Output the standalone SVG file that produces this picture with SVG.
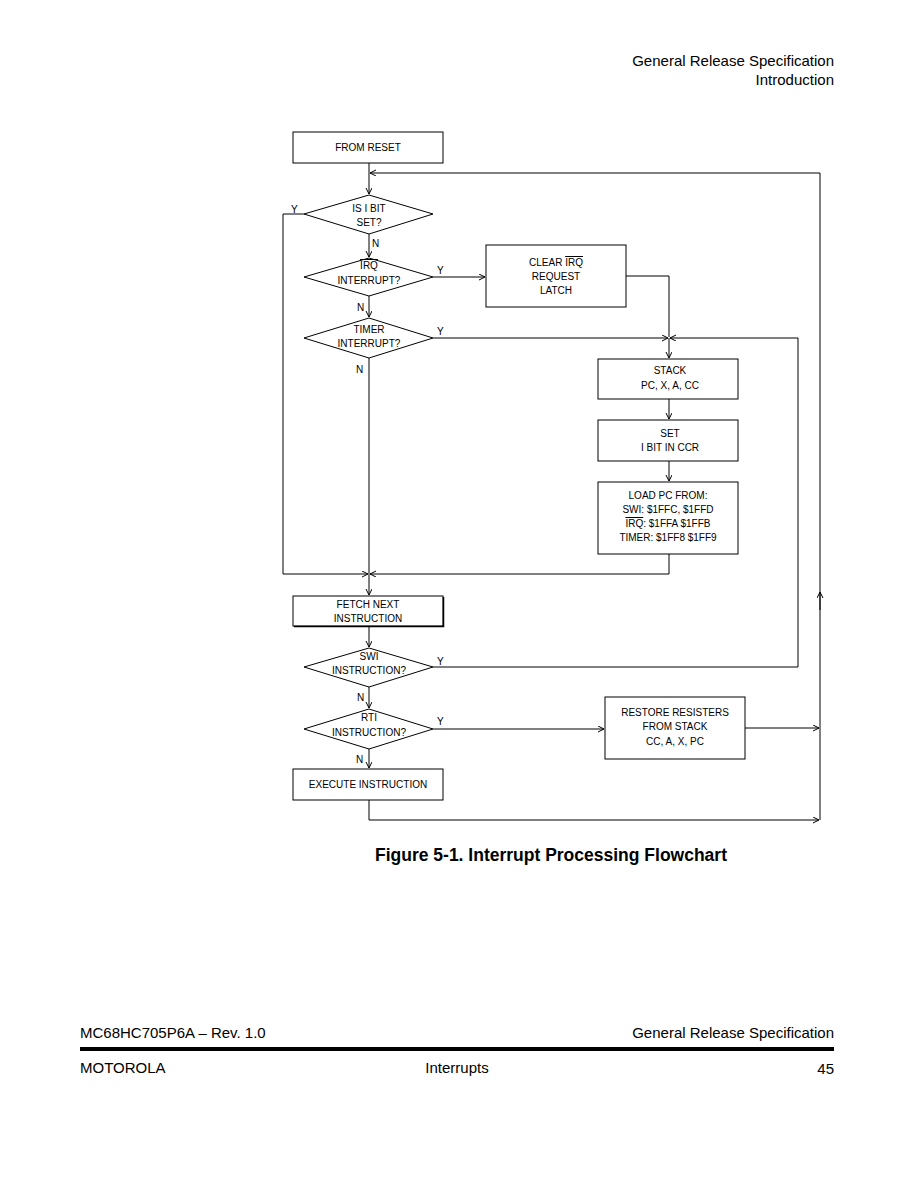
<svg xmlns="http://www.w3.org/2000/svg" width="921" height="1188" viewBox="0 0 921 1188">
<style>
.bg{fill:#fff}
.box{fill:#fff;stroke:#000;stroke-width:1}
.t{font-family:"Liberation Sans",Arial,sans-serif;font-size:10px;fill:#000;text-anchor:middle}
.lbl{font-family:"Liberation Sans",Arial,sans-serif;font-size:10px;fill:#000}
.c{fill:none;stroke:#000;stroke-width:1}
.hdr{font-family:"Liberation Sans",Arial,sans-serif;font-size:15px;fill:#000}
.ov{text-decoration:overline}
</style>
<defs>
<marker id="a" markerWidth="7" markerHeight="7" refX="6" refY="3" orient="auto" markerUnits="userSpaceOnUse">
<path d="M0,0 L6,3 L0,6" fill="none" stroke="#000" stroke-width="1"/>
</marker>
</defs>
<rect class="bg" x="0" y="0" width="921" height="1188"/>

<text class="hdr" x="834" y="66" text-anchor="end">General Release Specification</text>
<text class="hdr" x="834" y="85" text-anchor="end">Introduction</text>

<g id="connectors">
<path class="c" d="M369,163 V194" marker-end="url(#a)"/>
<path class="c" d="M820,173 H370" marker-end="url(#a)"/>
<path class="c" d="M304,214 H283 V574 H368" marker-end="url(#a)"/>
<path class="c" d="M369,234 V257" marker-end="url(#a)"/>
<path class="c" d="M433,277 H485" marker-end="url(#a)"/>
<path class="c" d="M626,276 H669 V337" />
<path class="c" d="M369,296 V317" marker-end="url(#a)"/>
<path class="c" d="M433,338 H668" marker-end="url(#a)"/>
<path class="c" d="M669,338 V358" marker-end="url(#a)"/>
<path class="c" d="M369,358 V595" marker-end="url(#a)"/>
<path class="c" d="M669,399 V419" marker-end="url(#a)"/>
<path class="c" d="M669,461 V481" marker-end="url(#a)"/>
<path class="c" d="M669,554 V574 H370" marker-end="url(#a)"/>
<path class="c" d="M369,626 V647" marker-end="url(#a)"/>
<path class="c" d="M433,667 H798 V338 H670" marker-end="url(#a)"/>
<path class="c" d="M369,687 V708" marker-end="url(#a)"/>
<path class="c" d="M433,729 H604" marker-end="url(#a)"/>
<path class="c" d="M745,728 H819" marker-end="url(#a)"/>
<path class="c" d="M369,749 V768" marker-end="url(#a)"/>
<path class="c" d="M369,800 V820 H819" marker-end="url(#a)"/>
<path class="c" d="M820,820 V173"/>
<path class="c" d="M820,610 V592" marker-end="url(#a)"/>
</g>

<g id="labels">
<text class="lbl" x="291" y="213">Y</text>
<text class="lbl" x="372" y="247">N</text>
<text class="lbl" x="437" y="274">Y</text>
<text class="lbl" x="357" y="311">N</text>
<text class="lbl" x="437" y="335">Y</text>
<text class="lbl" x="356" y="373">N</text>
<text class="lbl" x="437" y="665">Y</text>
<text class="lbl" x="357" y="701">N</text>
<text class="lbl" x="437" y="725">Y</text>
<text class="lbl" x="356" y="763">N</text>
</g>

<g id="from-reset">
<rect class="box" x="293" y="132" width="150" height="31"/>
<text class="t" x="368" y="151">FROM RESET</text>
</g>

<g id="ibit">
<polygon class="box" points="369,195 433,214 369,234 304,214"/>
<text class="t" x="369" y="212">IS I BIT</text>
<text class="t" x="369" y="226">SET?</text>
</g>

<g id="irq">
<polygon class="box" points="369,258 433,277 369,296 304,277"/>
<text class="t" x="369" y="269"><tspan class="ov">IRQ</tspan></text>
<text class="t" x="369" y="284">INTERRUPT?</text>
</g>

<g id="clear-irq">
<rect class="box" x="486" y="245" width="140" height="62"/>
<text class="t" x="556" y="266">CLEAR <tspan class="ov">IRQ</tspan></text>
<text class="t" x="556" y="280">REQUEST</text>
<text class="t" x="556" y="294">LATCH</text>
</g>

<g id="timer">
<polygon class="box" points="369,318 433,338 369,358 304,338"/>
<text class="t" x="369" y="333">TIMER</text>
<text class="t" x="369" y="347">INTERRUPT?</text>
</g>

<g id="stack">
<rect class="box" x="598" y="359" width="140" height="40"/>
<text class="t" x="670" y="374">STACK</text>
<text class="t" x="670" y="389">PC, X, A, CC</text>
</g>

<g id="set-ibit">
<rect class="box" x="598" y="420" width="140" height="41"/>
<text class="t" x="670" y="437">SET</text>
<text class="t" x="670" y="451">I BIT IN CCR</text>
</g>

<g id="load-pc">
<rect class="box" x="598" y="482" width="140" height="72"/>
<text class="t" x="668" y="499">LOAD PC FROM:</text>
<text class="t" x="668" y="513">SWI: $1FFC, $1FFD</text>
<text class="t" x="668" y="527"><tspan class="ov">IRQ</tspan>: $1FFA $1FFB</text>
<text class="t" x="668" y="541">TIMER: $1FF8 $1FF9</text>
</g>

<g id="fetch">
<rect class="box" x="293" y="596" width="150" height="30"/>
<path d="M294,626.5 H443.5 V597" fill="none" stroke="#000" stroke-width="1.5"/>
<text class="t" x="368" y="608">FETCH NEXT</text>
<text class="t" x="368" y="622">INSTRUCTION</text>
</g>

<g id="swi">
<polygon class="box" points="369,648 433,667 369,687 304,667"/>
<text class="t" x="369" y="660">SWI</text>
<text class="t" x="369" y="674">INSTRUCTION?</text>
</g>

<g id="rti">
<polygon class="box" points="369,709 433,729 369,749 304,729"/>
<text class="t" x="369" y="721">RTI</text>
<text class="t" x="369" y="736">INSTRUCTION?</text>
</g>

<g id="restore">
<rect class="box" x="605" y="697" width="140" height="62"/>
<text class="t" x="675" y="716">RESTORE RESISTERS</text>
<text class="t" x="675" y="730">FROM STACK</text>
<text class="t" x="675" y="745">CC, A, X, PC</text>
</g>

<g id="execute">
<rect class="box" x="293" y="769" width="150" height="31"/>
<text class="t" x="368" y="788">EXECUTE INSTRUCTION</text>
</g>

<text x="551" y="861" text-anchor="middle" font-family="Liberation Sans,Arial,sans-serif" font-size="17.5" font-weight="bold">Figure 5-1. Interrupt Processing Flowchart</text>

<text class="hdr" x="80" y="1038">MC68HC705P6A – Rev. 1.0</text>
<text class="hdr" x="834" y="1038" text-anchor="end">General Release Specification</text>
<rect x="80" y="1047" width="754" height="4" fill="#000"/>
<text class="hdr" x="80" y="1073">MOTOROLA</text>
<text class="hdr" x="457" y="1073" text-anchor="middle">Interrupts</text>
<text class="hdr" x="834" y="1074" text-anchor="end" font-size="18">45</text>
</svg>
